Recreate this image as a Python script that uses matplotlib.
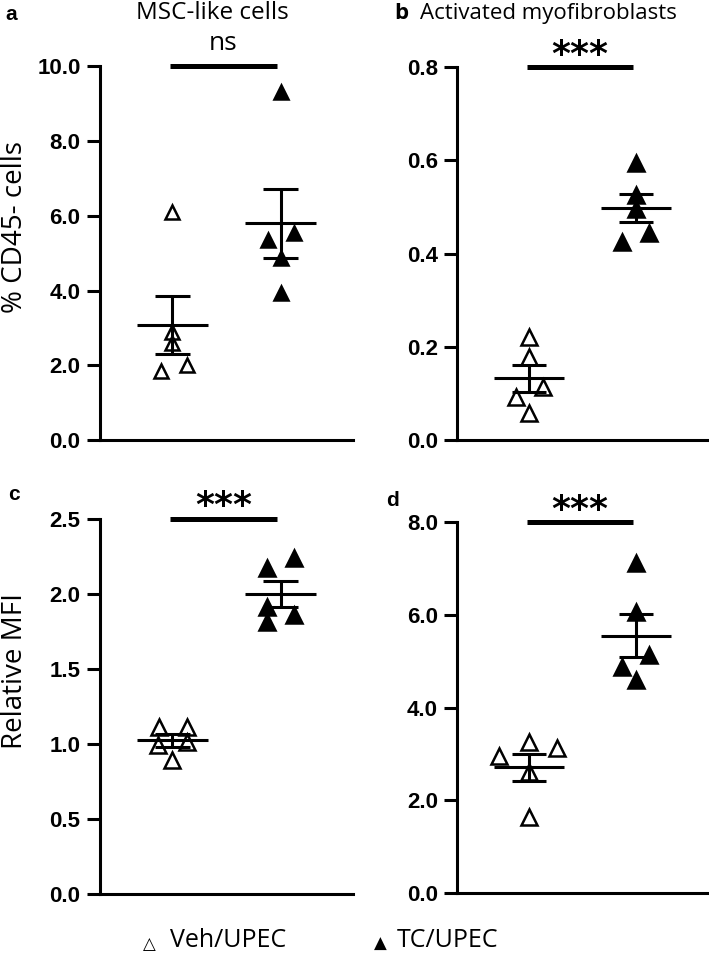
import numpy as np
import matplotlib
matplotlib.use('Agg')
import matplotlib.pyplot as plt

# values, one list per group
a_veh = [6.1, 2.9, 2.6, 1.85, 2.0]
a_tc = [9.3, 5.35, 5.53, 4.86, 3.93]
b_veh = [0.221, 0.178, 0.114, 0.092, 0.058]
b_tc = [0.595, 0.525, 0.495, 0.425, 0.445]
c_veh = [1.11, 1.11, 0.99, 1.01, 0.89]
c_tc = [2.17, 2.24, 1.91, 1.81, 1.86]
d_veh = [2.95, 3.25, 3.12, 2.6, 1.64]
d_tc = [7.13, 6.06, 5.13, 4.87, 4.59]

# horizontal jitter of the dots within each group
a_jit = ([0, 0, 0, -0.11, 0.13], [0, -0.12, 0.12, 0, 0])
b_jit = ([0, 0, 0.13, -0.12, 0], [0, 0, 0, -0.13, 0.12])
c_jit = ([-0.12, 0.13, -0.13, 0.13, 0], [-0.13, 0.12, -0.13, -0.13, 0.12])
d_jit = ([-0.28, 0, 0.26, 0, 0], [0, 0, 0.12, -0.13, 0])

panels = [
    dict(pos=[0.141, 0.539, 0.357, 0.392], veh=a_veh, tc=a_tc, jit=a_jit,
         ymax=10, ticks=[0, 2, 4, 6, 8, 10], fmt='%.1f', sig='ns', ms=10),
    dict(pos=[0.645, 0.539, 0.353, 0.391], veh=b_veh, tc=b_tc, jit=b_jit,
         ymax=0.8, ticks=[0, 0.2, 0.4, 0.6, 0.8], fmt='%.1f', sig='***', ms=11),
    dict(pos=[0.141, 0.064, 0.357, 0.393], veh=c_veh, tc=c_tc, jit=c_jit,
         ymax=2.5, ticks=[0, 0.5, 1.0, 1.5, 2.0, 2.5], fmt='%.1f', sig='***', ms=12),
    dict(pos=[0.645, 0.065, 0.353, 0.388], veh=d_veh, tc=d_tc, jit=d_jit,
         ymax=8, ticks=[0, 2, 4, 6, 8], fmt='%.1f', sig='***', ms=11),
]

fig = plt.figure(figsize=(7.09, 9.55), dpi=100)
lw = 2.2

for p in panels:
    ax = fig.add_axes(p['pos'])
    for i, (vals, face) in enumerate([(p['veh'], 'white'), (p['tc'], 'black')]):
        x0 = i + 1
        vals = np.array(vals)
        xs = x0 + np.array(p['jit'][i])
        ax.plot(xs, vals, linestyle='none', marker='^', ms=p['ms'],
                mfc=face, mec='black', mew=1.8, zorder=3)
        m = vals.mean()
        sem = vals.std(ddof=1) / np.sqrt(len(vals))
        ax.hlines(m, x0 - 0.33, x0 + 0.33, color='black', lw=lw, zorder=4)
        ax.hlines([m - sem, m + sem], x0 - 0.16, x0 + 0.16, color='black', lw=lw, zorder=4)
        ax.vlines(x0, m - sem, m + sem, color='black', lw=lw, zorder=4)

    ax.set_xlim(0.33, 2.67)
    ax.set_ylim(0, p['ymax'])
    ax.set_yticks(p['ticks'])
    ax.set_yticklabels([p['fmt'] % t for t in p['ticks']],
                       fontsize=16, fontweight='bold', family='Liberation Sans')
    ax.set_xticks([])
    for s in ['top', 'right']:
        ax.spines[s].set_visible(False)
    for s in ['left', 'bottom']:
        ax.spines[s].set_linewidth(lw)
    ax.tick_params(axis='y', length=9.5, width=lw, pad=4.5)

    # significance bar
    ax.plot([0.98, 1.97], [p['ymax'], p['ymax']], color='black', lw=3.6,
            solid_capstyle='butt', clip_on=False)
    if p['sig'] == 'ns':
        ax.annotate('ns', (1.47, p['ymax']), xytext=(0, 7), textcoords='offset points',
                    ha='center', va='bottom', fontsize=19, family='Open Sans',
                    annotation_clip=False)
    else:
        ax.annotate(p['sig'], (1.47, p['ymax']), xytext=(0, -3.5), textcoords='offset points',
                    ha='center', va='bottom', fontsize=26, fontweight='bold',
                    family='DejaVu Sans', annotation_clip=False)

# y axis titles
fig.text(0.021, 1 - 227 / 955, '% CD45- cells', rotation=90, fontsize=20,
         family='Open Sans', ha='center', va='center')
fig.text(0.021, 1 - 671 / 955, 'Relative MFI', rotation=90, fontsize=20,
         family='Open Sans', ha='center', va='center')

# panel letters and titles
fig.text(0.007, 0.985, 'a', fontsize=15, fontweight='bold', family='Liberation Sans', va='center')
fig.text(0.299, 0.986, 'MSC-like cells', fontsize=17.5, family='Open Sans', ha='center', va='center')
fig.text(0.556, 0.986, 'b', fontsize=16, fontweight='bold', family='Open Sans', va='center')
fig.text(0.593, 0.986, 'Activated myofibroblasts', fontsize=16, family='Open Sans', va='center')
fig.text(0.012, 0.482, 'c', fontsize=15, fontweight='bold', family='Liberation Sans', va='center')
fig.text(0.545, 0.476, 'd', fontsize=15, fontweight='bold', family='Liberation Sans', va='center')

# legend at the bottom
fig.text(0.210, 0.012, '\u25b3', fontsize=12, ha='center', va='center', family='DejaVu Sans')
fig.text(0.240, 0.015, 'Veh/UPEC', fontsize=18, family='Open Sans', va='center')
fig.text(0.536, 0.012, '\u25b2', fontsize=12, ha='center', va='center', family='DejaVu Sans')
fig.text(0.560, 0.015, 'TC/UPEC', fontsize=18, family='Open Sans', va='center')

plt.savefig('out.png', dpi=100)
plt.close()
